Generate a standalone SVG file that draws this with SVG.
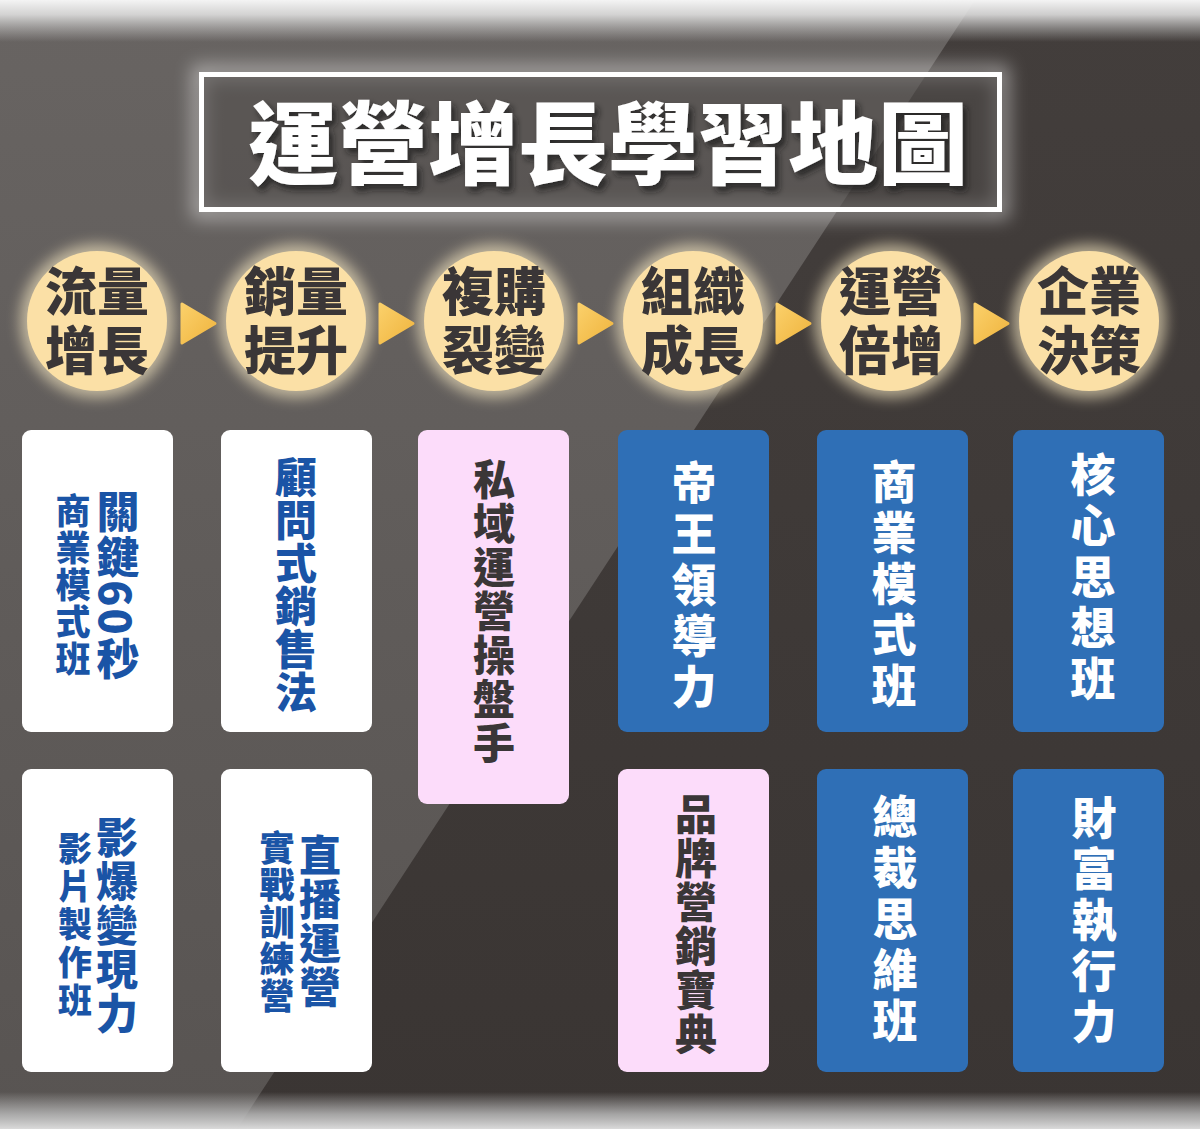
<svg xmlns="http://www.w3.org/2000/svg" width="1200" height="1129" viewBox="0 0 1200 1129">
<defs>
<linearGradient id="leftBg" x1="0" y1="0" x2="0" y2="1">
<stop offset="0" stop-color="#686462"/>
<stop offset="0.5" stop-color="#605c5a"/>
<stop offset="1" stop-color="#585452"/>
</linearGradient>
<linearGradient id="rightBg" x1="0" y1="0" x2="0" y2="1">
<stop offset="0" stop-color="#433e3c"/>
<stop offset="1" stop-color="#3a3533"/>
</linearGradient>
<linearGradient id="topBand" x1="0" y1="0" x2="0" y2="1">
<stop offset="0" stop-color="#f4f4f4" stop-opacity="1"/>
<stop offset="0.35" stop-color="#e6e6e6" stop-opacity="0.85"/>
<stop offset="1" stop-color="#cccccc" stop-opacity="0"/>
</linearGradient>
<linearGradient id="botBand" x1="0" y1="0" x2="0" y2="1">
<stop offset="0" stop-color="#bdbdbd" stop-opacity="0"/>
<stop offset="0.6" stop-color="#b8b8b8" stop-opacity="0.85"/>
<stop offset="1" stop-color="#dadada" stop-opacity="1"/>
</linearGradient>
<linearGradient id="arrowGrad" x1="0" y1="0" x2="1" y2="1">
<stop offset="0" stop-color="#fbd06a"/>
<stop offset="1" stop-color="#efb43e"/>
</linearGradient>
<filter id="glow" x="-50%" y="-50%" width="200%" height="200%">
<feGaussianBlur stdDeviation="7"/>
</filter>
<filter id="boxGlow" x="-10%" y="-30%" width="120%" height="160%">
<feGaussianBlur stdDeviation="9"/>
</filter>
<filter id="titleShadow" x="-10%" y="-30%" width="120%" height="160%">
<feDropShadow dx="4" dy="5" stdDeviation="3" flood-color="#1e1b1a" flood-opacity="0.75"/>
</filter>
<style>
.circ{fill:#fbe0a6}
.circGlow{fill:#fff0c8;opacity:0.6}
.ctext{font-family:"Noto Sans CJK TC","Noto Sans CJK SC",sans-serif;font-weight:900;font-size:52px;fill:#3a3637;text-anchor:middle}
.card{stroke:none}
.white{fill:#ffffff}
.pink{fill:#fcdcfa}
.blue{fill:#2f6fb6}
.vt{font-family:"Noto Sans CJK TC","Noto Sans CJK SC",sans-serif;font-weight:900;writing-mode:vertical-rl;text-anchor:middle}
.tb{fill:#1a54a6}
.td{fill:#3a3637}
.tw{fill:#ffffff}
.arrow{fill:url(#arrowGrad);stroke:url(#arrowGrad);stroke-width:3;stroke-linejoin:round}
</style>
</defs>

<!-- background -->
<rect x="0" y="0" width="1200" height="1129" fill="url(#rightBg)"/>
<polygon points="0,0 975,0 237,1129 0,1129" fill="url(#leftBg)"/>
<rect x="0" y="0" width="1200" height="42" fill="url(#topBand)"/>
<rect x="0" y="1092" width="1200" height="37" fill="url(#botBand)"/>

<!-- title -->
<g id="title">
<rect x="199" y="72" width="803" height="140" fill="none" stroke="#ffffff" stroke-width="14" opacity="0.45" filter="url(#boxGlow)"/>
<rect x="201.5" y="74.5" width="798" height="135" fill="#514d4b" opacity="0.55"/>
<rect x="201.5" y="74.5" width="798" height="135" fill="none" stroke="#ffffff" stroke-width="5"/>
<text x="608" y="177" font-family="'Noto Sans CJK TC','Noto Sans CJK SC',sans-serif" font-weight="900" font-size="90" fill="#ffffff" text-anchor="middle" filter="url(#titleShadow)">運營增長學習地圖</text>
</g>

<!-- stage circles -->
<g id="stage1">
<circle class="circGlow" cx="97" cy="321" r="77" filter="url(#glow)"/>
<circle class="circ" cx="97" cy="321" r="70"/>
<text class="ctext"><tspan x="97" y="311">流量</tspan><tspan x="97" y="370">增長</tspan></text>
</g>
<g id="stage2">
<circle class="circGlow" cx="296" cy="321" r="77" filter="url(#glow)"/>
<circle class="circ" cx="296" cy="321" r="70"/>
<text class="ctext"><tspan x="296" y="311">銷量</tspan><tspan x="296" y="370">提升</tspan></text>
</g>
<g id="stage3">
<circle class="circGlow" cx="494" cy="321" r="77" filter="url(#glow)"/>
<circle class="circ" cx="494" cy="321" r="70"/>
<text class="ctext"><tspan x="494" y="311">複購</tspan><tspan x="494" y="370">裂變</tspan></text>
</g>
<g id="stage4">
<circle class="circGlow" cx="693" cy="321" r="77" filter="url(#glow)"/>
<circle class="circ" cx="693" cy="321" r="70"/>
<text class="ctext"><tspan x="693" y="311">組織</tspan><tspan x="693" y="370">成長</tspan></text>
</g>
<g id="stage5">
<circle class="circGlow" cx="891" cy="321" r="77" filter="url(#glow)"/>
<circle class="circ" cx="891" cy="321" r="70"/>
<text class="ctext"><tspan x="891" y="311">運營</tspan><tspan x="891" y="370">倍增</tspan></text>
</g>
<g id="stage6">
<circle class="circGlow" cx="1089" cy="321" r="77" filter="url(#glow)"/>
<circle class="circ" cx="1089" cy="321" r="70"/>
<text class="ctext"><tspan x="1089" y="311">企業</tspan><tspan x="1089" y="370">決策</tspan></text>
</g>

<!-- connectors -->
<g id="connectors">
<polygon class="arrow" points="182,304 182,343 215,323.5"/>
<polygon class="arrow" points="380,304 380,343 413,323.5"/>
<polygon class="arrow" points="579,304 579,343 612,323.5"/>
<polygon class="arrow" points="777,304 777,343 810,323.5"/>
<polygon class="arrow" points="975,304 975,343 1008,323.5"/>
</g>

<!-- course cards -->
<g id="card-key60">
<rect class="card white" x="22" y="430" width="151" height="302" rx="9"/>
<text class="vt tb" x="118" y="586" font-size="43" letter-spacing="2">關鍵60秒</text>
<text class="vt tb" x="73" y="586" font-size="35" letter-spacing="2">商業模式班</text>
</g>
<g id="card-consult">
<rect class="card white" x="221" y="430" width="151" height="302" rx="9"/>
<text class="vt tb" x="296" y="585" font-size="42" letter-spacing="1">顧問式銷售法</text>
</g>
<g id="card-private">
<rect class="card pink" x="418" y="430" width="151" height="374" rx="9"/>
<text class="vt td" x="494" y="612" font-size="42" letter-spacing="2">私域運營操盤手</text>
</g>
<g id="card-emperor">
<rect class="card blue" x="618" y="430" width="151" height="302" rx="9"/>
<text class="vt tw" x="694" y="588" font-size="45" letter-spacing="6">帝王領導力</text>
</g>
<g id="card-business">
<rect class="card blue" x="817" y="430" width="151" height="302" rx="9"/>
<text class="vt tw" x="894" y="587" font-size="45" letter-spacing="6">商業模式班</text>
</g>
<g id="card-core">
<rect class="card blue" x="1013" y="430" width="151" height="302" rx="9"/>
<text class="vt tw" x="1093" y="580" font-size="45" letter-spacing="6">核心思想班</text>
</g>
<g id="card-video">
<rect class="card white" x="22" y="769" width="151" height="303" rx="9"/>
<text class="vt tb" x="117" y="926" font-size="42" letter-spacing="2">影爆變現力</text>
<text class="vt tb" x="75" y="926" font-size="34" letter-spacing="4">影片製作班</text>
</g>
<g id="card-live">
<rect class="card white" x="221" y="769" width="151" height="303" rx="9"/>
<text class="vt tb" x="320" y="922" font-size="42" letter-spacing="2">直播運營</text>
<text class="vt tb" x="277" y="923" font-size="35" letter-spacing="2">實戰訓練營</text>
</g>
<g id="card-brand">
<rect class="card pink" x="618" y="769" width="151" height="303" rx="9"/>
<text class="vt td" x="696" y="925" font-size="42" letter-spacing="2">品牌營銷寶典</text>
</g>
<g id="card-ceo">
<rect class="card blue" x="817" y="769" width="151" height="303" rx="9"/>
<text class="vt tw" x="895" y="922" font-size="45" letter-spacing="6">總裁思維班</text>
</g>
<g id="card-wealth">
<rect class="card blue" x="1013" y="769" width="151" height="303" rx="9"/>
<text class="vt tw" x="1094" y="923" font-size="45" letter-spacing="6">財富執行力</text>
</g>
</svg>
